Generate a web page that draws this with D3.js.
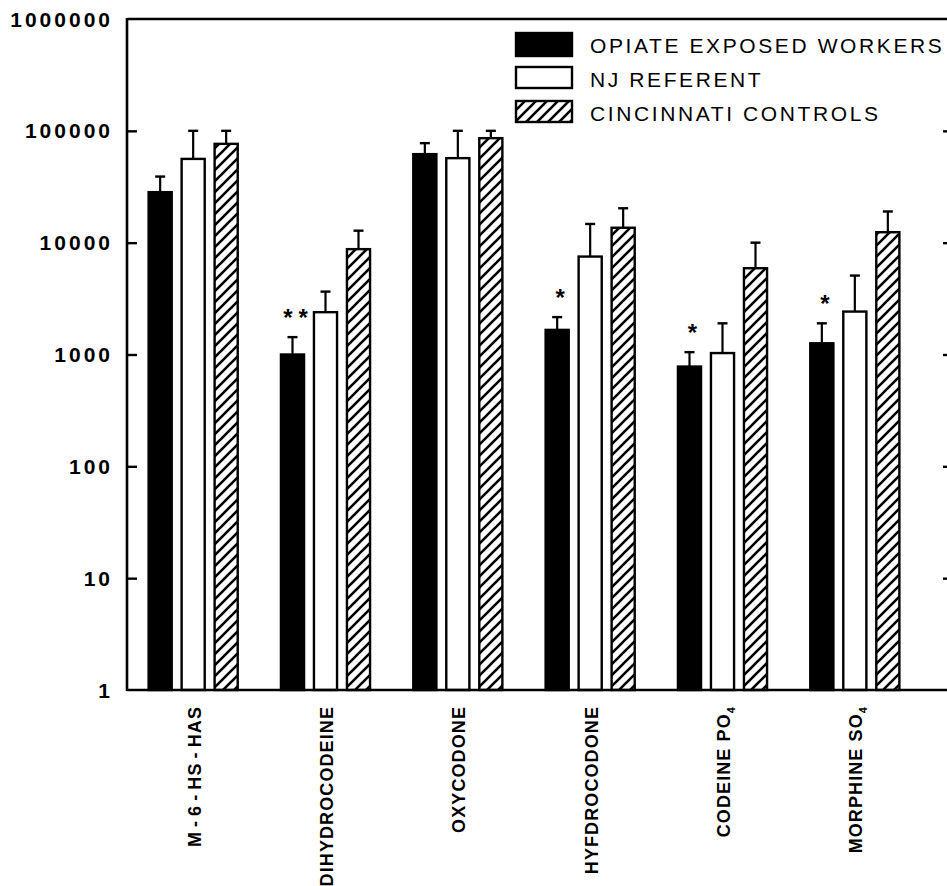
<!DOCTYPE html>
<html>
<head>
<meta charset="utf-8">
<script src="https://cdn.jsdelivr.net/npm/d3@7"></script>
<style>
  html, body { margin: 0; padding: 0; background: #fff; }
  svg { display: block; }
  text { font-family: "Liberation Sans", Arial, sans-serif; fill: #000; }
</style>
</head>
<body>
<div id="chart"></div>
<script>
// ---------- DATA ----------
const categories = ["M-6-HS-HAS", "DIHYDROCODEINE", "OXYCODONE", "HYFDROCODONE", "CODEINE PO4", "MORPHINE SO4"];
const seriesNames = ["OPIATE EXPOSED WORKERS", "NJ REFERENT", "CINCINNATI CONTROLS"];
const opiateMean = [28300, 1000, 61900, 1660, 780, 1260];
const opiateUpper = [39000, 1430, 77600, 2160, 1050, 1900];
const njMean = [56100, 2390, 57000, 7510, 1030, 2420];
const njUpper = [100000, 3650, 100000, 14700, 1900, 5080];
const cinMean = [76500, 8750, 86000, 13600, 5910, 12400];
const cinUpper = [100000, 12800, 100000, 20300, 10000, 19000];
const significance = ["", "**", "", "*", "*", "*"];
const yTicks = [1, 10, 100, 1000, 10000, 100000, 1000000];

const seriesMeans = [opiateMean, njMean, cinMean];
const seriesUppers = [opiateUpper, njUpper, cinUpper];

// ---------- LAYOUT ----------
const W = 947, H = 886;
const plotLeft = 127, plotRight = 953, plotTop = 19, plotBottom = 690;
const bandRight = 921;

const svg = d3.select("#chart").append("svg")
  .attr("width", W).attr("height", H);

const defs = svg.append("defs");
const pat = defs.append("pattern")
  .attr("id", "hatch")
  .attr("patternUnits", "userSpaceOnUse")
  .attr("width", 11).attr("height", 11);
pat.append("rect").attr("width", 11).attr("height", 11).attr("fill", "#fff");
pat.append("path")
  .attr("d", "M-3,3 L3,-3 M0,11 L11,0 M8,14 L14,8")
  .attr("stroke", "#000").attr("stroke-width", 2.6);

const y = d3.scaleLog().domain([1, 1e6]).range([plotBottom, plotTop]);
const x0 = d3.scaleBand().domain(categories).range([plotLeft, bandRight]).padding(0);
const x1 = d3.scaleBand().domain(d3.range(3)).range([-49.5, 49.5]).paddingInner(0.3).paddingOuter(0.15);

const fills = ["#000", "#fff", "url(#hatch)"];

// ---------- BARS ----------
const rows = [];
categories.forEach((c, i) => {
  seriesNames.forEach((s, j) => {
    rows.push({ cat: c, i, j, mean: seriesMeans[j][i], upper: seriesUppers[j][i] });
  });
});
const cx = d => x0(d.cat) + x0.bandwidth() / 2 + x1(d.j) + x1.bandwidth() / 2;

// error bars
const eb = svg.append("g");
eb.selectAll("line.v").data(rows).join("line")
  .attr("x1", cx).attr("x2", cx)
  .attr("y1", d => y(d.mean)).attr("y2", d => y(d.upper))
  .attr("stroke", "#000").attr("stroke-width", 2.2);
eb.selectAll("line.c").data(rows).join("line")
  .attr("x1", d => cx(d) - 5).attr("x2", d => cx(d) + 5)
  .attr("y1", d => y(d.upper)).attr("y2", d => y(d.upper))
  .attr("stroke", "#000").attr("stroke-width", 2.4);

svg.append("g").selectAll("rect").data(rows).join("rect")
  .attr("x", d => x0(d.cat) + x0.bandwidth() / 2 + x1(d.j))
  .attr("width", x1.bandwidth())
  .attr("y", d => y(d.mean))
  .attr("height", d => plotBottom - y(d.mean))
  .attr("fill", d => fills[d.j])
  .attr("stroke", "#000").attr("stroke-width", 2.4);

// significance stars
svg.append("g").selectAll("text").data(categories.map((c, i) => ({ c, i, s: significance[i] })).filter(d => d.s))
  .join("text")
  .attr("x", d => x0(d.c) + x0.bandwidth() / 2 + x1(0) + x1.bandwidth() / 2 + 3 + (d.s.length > 1 ? 3 : 0))
  .attr("y", d => y(opiateUpper[d.i]) - 24 + 13)
  .attr("text-anchor", "middle")
  .style("font-size", "24px").style("font-weight", "bold")
  .style("letter-spacing", d => d.s.length > 1 ? "6px" : "0px")
  .text(d => d.s);

// ---------- AXES / FRAME ----------
const frame = svg.append("g").attr("stroke", "#000").attr("fill", "none");
frame.append("line").attr("x1", plotLeft).attr("x2", plotLeft).attr("y1", plotTop - 1).attr("y2", plotBottom + 1).attr("stroke-width", 2.6);
frame.append("line").attr("x1", plotLeft).attr("x2", plotRight).attr("y1", plotTop).attr("y2", plotTop).attr("stroke-width", 2.4);
frame.append("line").attr("x1", plotLeft).attr("x2", plotRight).attr("y1", plotBottom).attr("y2", plotBottom).attr("stroke-width", 2.4);
frame.append("line").attr("x1", plotRight).attr("x2", plotRight).attr("y1", plotTop).attr("y2", plotBottom).attr("stroke-width", 2.4);

const yAxisL = d3.axisLeft(y).tickValues(yTicks.slice(1, -1)).tickSize(-10).tickFormat("");
const gL = svg.append("g").attr("transform", `translate(${plotLeft},0)`).call(yAxisL);
gL.select(".domain").remove();
gL.selectAll(".tick line").attr("stroke", "#000").attr("stroke-width", 2.4);

const yAxisR = d3.axisRight(y).tickValues(yTicks.slice(1, -1)).tickSize(-10).tickFormat("");
const gR = svg.append("g").attr("transform", `translate(${plotRight},0)`).call(yAxisR);
gR.select(".domain").remove();
gR.selectAll(".tick line").attr("stroke", "#000").attr("stroke-width", 2.4);

// y tick labels
svg.append("g").selectAll("text").data(yTicks).join("text")
  .attr("x", 113)
  .attr("y", d => y(d))
  .attr("dy", "0.36em")
  .attr("text-anchor", "end")
  .style("font-size", "21px").style("font-weight", "bold").style("letter-spacing", "3px")
  .text(d => String(d));

// x category labels (rotated)
const xl = svg.append("g").selectAll("text").data(categories).join("text")
  .attr("transform", d => `translate(${x0(d) + x0.bandwidth() / 2 + 7.5},706) rotate(-90)`)
  .attr("text-anchor", "end")
  .style("font-size", "18px").style("font-weight", "bold").style("letter-spacing", "1.1px");
xl.each(function (d) {
  const t = d3.select(this);
  const m = d.match(/^(.*[A-Z])(\d)$/);
  if (m) {
    t.append("tspan").text(m[1]);
    t.append("tspan").attr("dy", 5).style("font-size", "11px").text(m[2]);
  } else if (d.includes("-")) {
    const parts = d.split("-");
    parts.forEach((p, k) => {
      if (k > 0) t.append("tspan").attr("dx", 4).text("-");
      t.append("tspan").attr("dx", k > 0 ? 4 : 0).text(p);
    });
  } else {
    t.text(d);
  }
});

// ---------- LEGEND ----------
const legend = svg.append("g").attr("transform", "translate(516,0)");
const legRows = seriesNames.map((s, j) => ({ s, j }));
const rowY = j => 33 + j * 34;
legend.selectAll("rect").data(legRows).join("rect")
  .attr("x", 0).attr("y", d => rowY(d.j))
  .attr("width", 56).attr("height", d => d.j === 0 ? 23 : 21)
  .attr("fill", d => fills[d.j])
  .attr("stroke", "#000").attr("stroke-width", 2.4);
legend.selectAll("text").data(legRows).join("text")
  .attr("x", 74).attr("y", d => rowY(d.j) + 20)
  .style("font-size", "21px").style("letter-spacing", "2.6px")
  .text(d => d.s);
</script>
</body>
</html>
